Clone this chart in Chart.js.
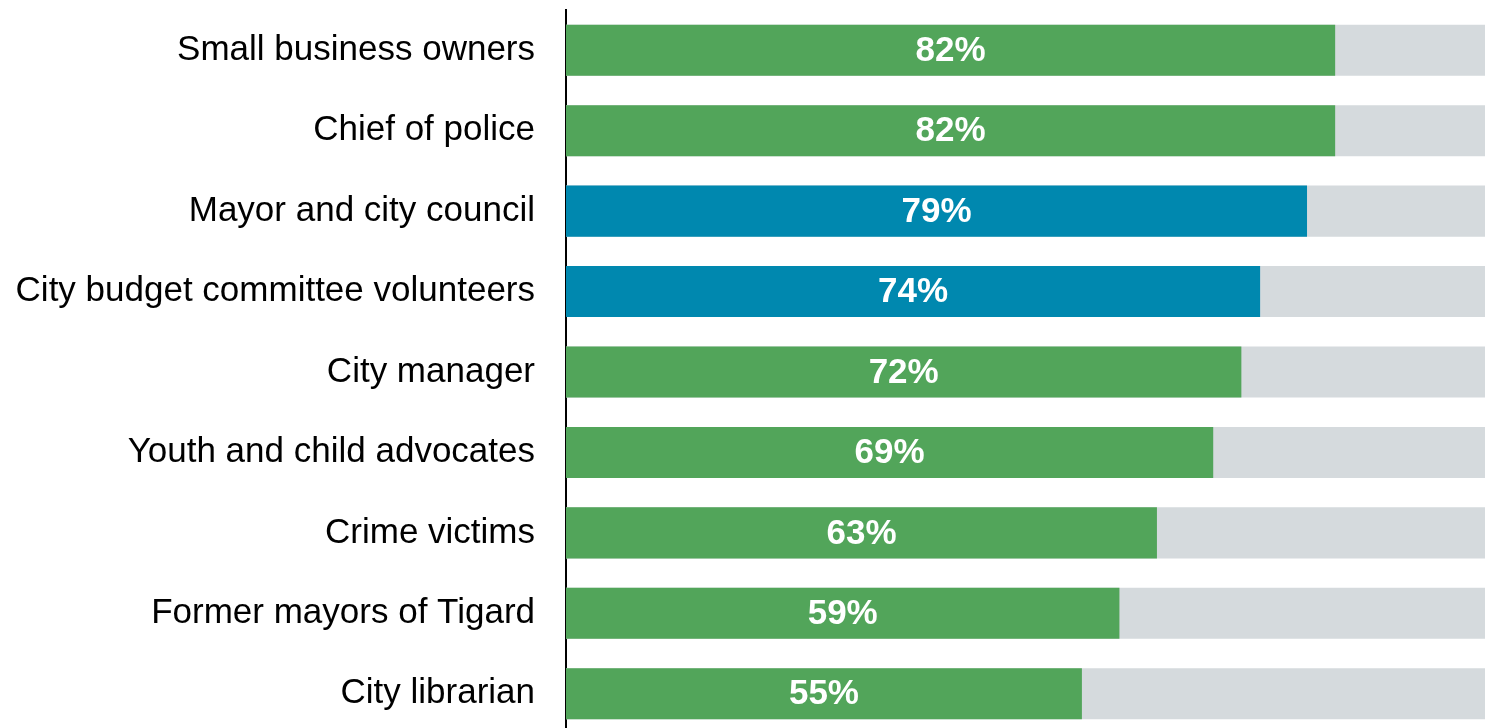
<!DOCTYPE html>
<html>
<head>
<meta charset="utf-8">
<script src="https://cdn.jsdelivr.net/npm/chart.js@4/dist/chart.umd.min.js"></script>
<style>
  html, body { margin: 0; padding: 0; background: #fff; overflow: hidden; }
  #wrap { width: 1504px; height: 734px; }
</style>
</head>
<body>
<div id="wrap"><canvas id="chart"></canvas></div>
<script>
"use strict"

const categories = [
    "Small business owners",
    "Chief of police",
    "Mayor and city council",
    "City budget committee volunteers",
    "City manager",
    "Youth and child advocates",
    "Crime victims",
    "Former mayors of Tigard",
    "City librarian"
];
const values = [82, 82, 79, 74, 72, 69, 63, 59, 55];
const totals = [100, 100, 100, 100, 100, 100, 100, 100, 100];

const green = "#52a55a";
const blue = "#0088af";
const barColors = values.map((v, i) => (i === 2 || i === 3) ? blue : green);

const valueLabels = {
    id: "valueLabels",
    afterDatasetsDraw(chart) {
        const ctx = chart.ctx;
        const meta = chart.getDatasetMeta(0);
        ctx.save();
        ctx.fillStyle = "#ffffff";
        ctx.font = "bold 35px 'Liberation Sans', Arial, sans-serif";
        ctx.textAlign = "center";
        ctx.textBaseline = "middle";
        meta.data.forEach((bar, i) => {
            const x = (bar.base + bar.x) / 2;
            ctx.fillText(values[i] + "%", x, bar.y + 1);
        });
        ctx.restore();
    }
};

new Chart(document.querySelector("#chart"), {
    type: "bar",
    data: {
        labels: categories,
        datasets: [{
            data: values,
            backgroundColor: barColors,
            grouped: false,
            barPercentage: 0.635,
            categoryPercentage: 1
        }, {
            data: totals,
            backgroundColor: "#d5dadd",
            grouped: false,
            barPercentage: 0.635,
            categoryPercentage: 1
        }]
    },
    options: {
        indexAxis: "y",
        responsive: true,
        maintainAspectRatio: false,
        animation: false,
        layout: { padding: { top: 10, right: 0, bottom: 0, left: 0 } },
        plugins: {
            legend: { display: false },
            tooltip: { enabled: false }
        },
        scales: {
            x: {
                min: 0,
                max: 100,
                display: false
            },
            y: {
                afterFit(scale) {
                    scale.width = 566;
                    scale.paddingTop = 0;
                    scale.paddingBottom = 0;
                },
                grid: { display: false, drawTicks: false },
                border: { display: true, color: "#000000", width: 2 },
                ticks: {
                    color: "#000000",
                    padding: 31,
                    font: { family: "'Liberation Sans', Arial, sans-serif", size: 35 }
                }
            }
        }
    },
    plugins: [valueLabels]
});
</script>
</body>
</html>
